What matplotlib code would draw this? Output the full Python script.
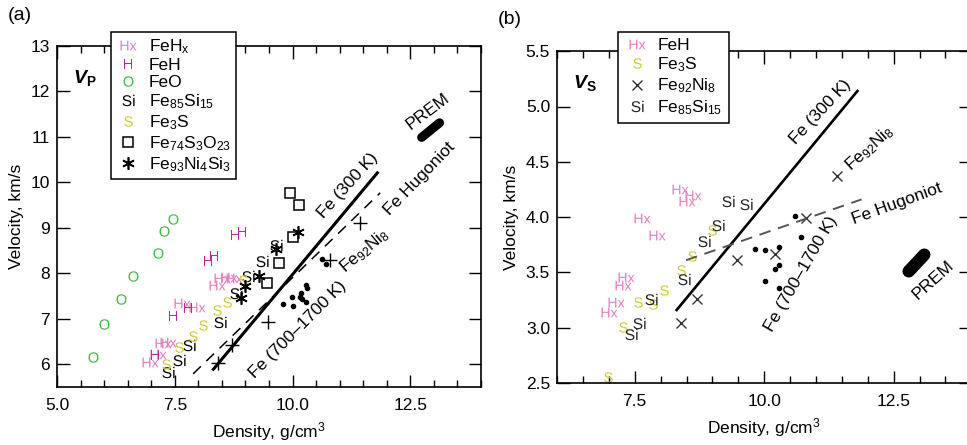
import matplotlib
matplotlib.use('Agg')
import matplotlib.pyplot as plt
from matplotlib.ticker import MultipleLocator, FormatStrFormatter

plt.rcParams['font.family'] = ['Liberation Sans', 'DejaVu Sans']
plt.rcParams['mathtext.fontset'] = 'custom'
plt.rcParams['mathtext.rm'] = 'Liberation Sans'
plt.rcParams['mathtext.it'] = 'Liberation Sans:italic'
plt.rcParams['mathtext.bf'] = 'Liberation Sans:bold'
plt.rcParams['mathtext.bfit'] = 'Liberation Sans:italic:bold'

pink = '#e57dbe'
magenta = '#be2896'
green = '#3dbb45'
yellow = '#cdcd2e'

# ---- panel (a): Vp ----
fehx_x = [6.97, 7.14, 7.26, 7.36, 7.65, 7.97, 8.39, 8.50, 8.65, 8.76]
fehx_y = [6.06, 6.22, 6.47, 6.50, 7.35, 7.27, 7.74, 7.90, 7.92, 7.90]
feh_x = [7.08, 7.46, 7.79, 8.20, 8.33, 8.78, 8.92]
feh_y = [6.20, 7.07, 7.24, 8.28, 8.39, 8.84, 8.92]
feo_x = [5.77, 6.00, 6.35, 6.61, 7.14, 7.28, 7.46]
feo_y = [6.17, 6.88, 7.43, 7.94, 8.45, 8.93, 9.19]
fesi_x = [7.36, 7.58, 7.81, 8.46, 8.81, 9.06, 9.35, 9.65]
fesi_y = [5.84, 6.09, 6.42, 6.94, 7.56, 7.94, 8.28, 8.62]
fes_x = [7.31, 7.58, 7.88, 8.09, 8.39, 8.60, 8.95]
fes_y = [6.01, 6.39, 6.62, 6.86, 7.19, 7.38, 7.85]
fso_x = [9.45, 9.71, 9.95, 10.02, 10.14]
fso_y = [7.79, 8.22, 9.76, 8.79, 9.50]
fns_x = [8.90, 8.99, 9.29, 9.65, 10.11]
fns_y = [7.45, 7.72, 7.94, 8.54, 8.90]
ni_x = [8.42, 8.71, 9.47, 10.80, 11.43]
ni_y = [6.02, 6.42, 6.94, 8.29, 9.10]
hot_x = [9.80, 9.98, 10.00, 10.16, 10.18, 10.21, 10.29, 10.30, 10.29, 10.62, 10.71]
hot_y = [7.32, 7.49, 7.28, 7.49, 7.56, 7.43, 7.74, 7.67, 7.36, 8.31, 8.20]
fe300_x = [8.32, 11.80]
fe300_y = [5.89, 10.21]
hug_x = [7.89, 11.86]
hug_y = [5.79, 9.77]
prem_x = [12.74, 13.12]
prem_y = [10.99, 11.31]

# ---- panel (b): Vs ----
fehb_x = [7.01, 7.14, 7.27, 7.33, 7.65, 7.94, 8.37, 8.50, 8.63]
fehb_y = [3.14, 3.23, 3.39, 3.46, 3.99, 3.84, 4.25, 4.15, 4.20]
fesb_x = [6.99, 7.28, 7.57, 7.86, 8.07, 8.39, 8.60, 9.00]
fesb_y = [2.55, 3.01, 3.23, 3.21, 3.34, 3.52, 3.65, 3.88]
nib_x = [8.39, 8.71, 9.47, 10.20, 10.81, 11.41]
nib_y = [3.04, 3.26, 3.61, 3.67, 3.99, 4.37]
fesib_x = [7.42, 7.59, 7.81, 8.45, 8.84, 9.11, 9.31, 9.65]
fesib_y = [2.94, 3.04, 3.26, 3.44, 3.78, 3.93, 4.15, 4.12]
hotb_x = [9.82, 10.02, 10.02, 10.21, 10.29, 10.29, 10.29, 10.59, 10.72]
hotb_y = [3.71, 3.70, 3.42, 3.53, 3.57, 3.73, 3.36, 4.01, 3.82]
fe300b_x = [8.31, 11.80]
fe300b_y = [3.16, 5.14]
hugb_x = [8.49, 11.88]
hugb_y = [3.61, 4.16]
premb_x = [12.79, 13.09]
premb_y = [3.51, 3.66]

FS = 12.5

fig = plt.figure(figsize=(9.67, 4.45), dpi=100)
axa = fig.add_axes([57 / 967, 58 / 445, 424 / 967, 341 / 445])
axb = fig.add_axes([557 / 967, 62 / 445, 414.4 / 967, 331.8 / 445])


def style_axes(ax):
    ax.tick_params(which='both', direction='in', top=True, right=True,
                   labelsize=FS, width=1.0)
    ax.tick_params(which='major', length=9)
    ax.tick_params(which='minor', length=5)
    ax.tick_params(axis='x', pad=8)
    ax.tick_params(axis='y', pad=5)
    for s in ax.spines.values():
        s.set_linewidth(1.2)
    ax.xaxis.set_major_locator(MultipleLocator(2.5))
    ax.xaxis.set_minor_locator(MultipleLocator(0.5))
    ax.xaxis.set_major_formatter(FormatStrFormatter('%.1f'))
    ax.set_xlabel('Density, g/cm$^3$', fontsize=FS, labelpad=5)
    ax.set_ylabel('Velocity, km/s', fontsize=FS, labelpad=5)


hx = r'$\mathrm{Hx}$'
mk = dict(ls='none', mew=0)

# panel (a)
axa.plot(fehx_x, fehx_y, marker=hx, ms=11.5, color=pink, label='FeH$_\\mathrm{x}$', **mk)
axa.plot(feh_x, feh_y, marker=r'$\mathrm{H}$', ms=7.3, color=magenta, label='FeH', **mk)
axa.plot(feo_x, feo_y, marker=r'$\mathrm{O}$', ms=7.5, color=green, label='FeO', **mk)
axa.plot(fesi_x, fesi_y, marker=r'$\mathrm{Si}$', ms=8.7, color='black',
         label='Fe$_{85}$Si$_{15}$', **mk)
axa.plot(fes_x, fes_y, marker=r'$\mathrm{S}$', ms=7.5, color=yellow, label='Fe$_3$S', **mk)
axa.plot(fso_x, fso_y, ls='none', marker='s', ms=7, mfc='none', mec='black', mew=1.1,
         label='Fe$_{74}$S$_3$O$_{23}$')
axa.plot(fns_x, fns_y, ls='none', marker=(6, 2, 0), ms=9, mec='black', mew=1.2,
         label='Fe$_{93}$Ni$_4$Si$_3$')
axa.plot(ni_x, ni_y, ls='none', marker='+', ms=10, mec='black', mew=1.0)
axa.plot(hot_x, hot_y, ls='none', marker='o', ms=3, color='black')
axa.plot(fe300_x, fe300_y, color='black', lw=2.2)
axa.plot(hug_x, hug_y, color='black', lw=1.1, dashes=(7, 5))
axa.plot(prem_x, prem_y, color='black', lw=6.5, solid_capstyle='round')

axa.set_xlim(5, 14)
axa.set_ylim(5.5, 13)
style_axes(axa)
axa.yaxis.set_major_locator(MultipleLocator(1))

axa.text(0.066, 0.906, r'$\mathbfit{V}_\mathbf{P}$', transform=axa.transAxes,
         fontsize=14, ha='center', va='center')
rot = dict(fontsize=FS, ha='center', va='center', rotation_mode='anchor')
axa.text(12.87, 11.56, 'PREM', rotation=37, **rot)
axa.text(12.69, 10.09, 'Fe Hugoniot', rotation=46, **rot)
axa.text(11.17, 9.94, 'Fe (300 K)', rotation=48, **rot)
axa.text(11.54, 8.50, 'Fe$_{92}$Ni$_8$', rotation=40, **rot)
axa.text(10.12, 6.77, 'Fe (700\u20131700 K)', rotation=45, **rot)

lega = axa.legend(loc='upper left', bbox_to_anchor=(0.127, 1.041), fontsize=FS,
                  frameon=True, fancybox=False, edgecolor='black', framealpha=1,
                  numpoints=1, handlelength=1.4, handletextpad=0.5,
                  labelspacing=0.12, borderpad=0.3, borderaxespad=0)
lega.get_frame().set_linewidth(1.1)

# panel (b)
axb.plot(fehb_x, fehb_y, marker=hx, ms=11.5, color=pink, label='FeH', **mk)
axb.plot(fesb_x, fesb_y, marker=r'$\mathrm{S}$', ms=7.5, color=yellow, label='Fe$_3$S', **mk)
axb.plot(nib_x, nib_y, ls='none', marker='x', ms=7, mec='#333333', mew=1.0,
         label='Fe$_{92}$Ni$_8$')
axb.plot(fesib_x, fesib_y, marker=r'$\mathrm{Si}$', ms=8.7, color='#222222',
         label='Fe$_{85}$Si$_{15}$', **mk)
axb.plot(hotb_x, hotb_y, ls='none', marker='o', ms=3, color='black')
axb.plot(fe300b_x, fe300b_y, color='black', lw=1.9)
axb.plot(hugb_x, hugb_y, color='#555555', lw=1.4, dashes=(6, 4))
axb.plot(premb_x, premb_y, color='black', lw=9, solid_capstyle='round')

axb.set_xlim(6, 14)
axb.set_ylim(2.5, 5.5)
style_axes(axb)
axb.yaxis.set_major_locator(MultipleLocator(0.5))
axb.yaxis.set_major_formatter(FormatStrFormatter('%.1f'))

axb.text(0.068, 0.905, r'$\mathbfit{V}_\mathbf{S}$', transform=axb.transAxes,
         fontsize=14, ha='center', va='center')
axb.text(13.26, 3.43, 'PREM', rotation=42, **rot)
axb.text(12.56, 4.12, 'Fe Hugoniot', rotation=20, **rot)
axb.text(11.08, 4.95, 'Fe (300 K)', rotation=47, **rot)
axb.text(12.04, 4.62, 'Fe$_{92}$Ni$_8$', rotation=42, **rot)
axb.text(10.71, 3.49, 'Fe (700\u20131700 K)', rotation=60, **rot)

legb = axb.legend(loc='upper left', bbox_to_anchor=(0.148, 1.059), fontsize=FS,
                  frameon=True, fancybox=False, edgecolor='black', framealpha=1,
                  numpoints=1, handlelength=1.4, handletextpad=0.5,
                  labelspacing=0.15, borderpad=0.35, borderaxespad=0)
legb.get_frame().set_linewidth(1.1)

fig.text(20 / 967, 1 - 15 / 445, '(a)', fontsize=14, ha='center', va='center')
fig.text(510 / 967, 1 - 20 / 445, '(b)', fontsize=14, ha='center', va='center')

fig.savefig('out.png', dpi=100)
